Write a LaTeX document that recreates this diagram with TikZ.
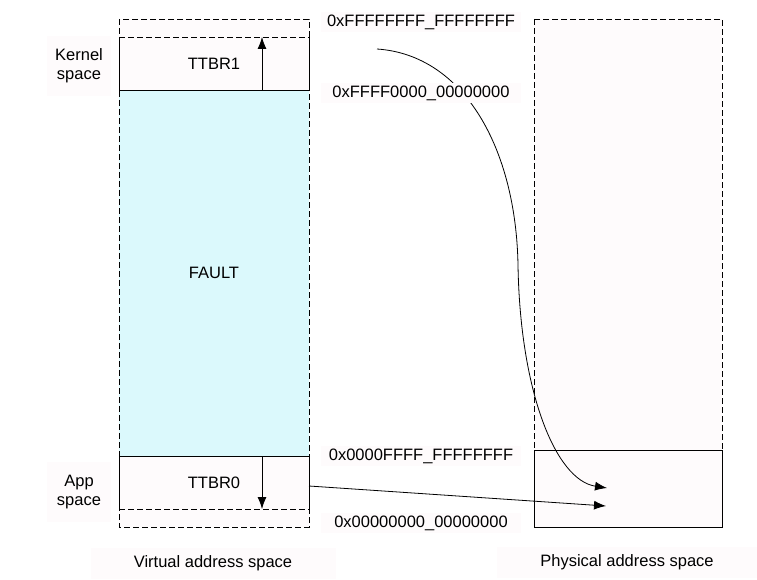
\documentclass[tikz,border=0pt]{standalone}
\usepackage{fontspec}
\setmainfont{Liberation Sans}
\usetikzlibrary{arrows.meta}
\definecolor{rose}{RGB}{254,251,252}
\definecolor{cyanpale}{RGB}{219,249,252}
\begin{document}
\begin{tikzpicture}[x=1pt, y=-1pt, line width=0.8pt]
\tikzset{zone/.style={rectangle, inner sep=0pt, outer sep=0pt, minimum width=190pt, font=\fontsize{16.5}{19}\selectfont},
etiq/.style={rectangle, fill=rose, inner sep=0pt, align=center, font=\fontsize{16.5}{19}\selectfont},
tirets/.style={dash pattern=on 6pt off 3pt},
fleche/.style={-{Latex[length=12pt,width=9pt]}}}
\useasboundingbox (0,0) rectangle (757,580);
\node[zone, fill=rose, minimum height=508pt] (Vcol) at (214,273) {};
\node[zone, fill=rose, minimum width=188pt, minimum height=508pt] (Pcol) at (628,273) {};
\node[zone, fill=rose, minimum height=53pt] (Noyau) at (214,63.5) {TTBR1};
\node[zone, fill=cyanpale, minimum height=366pt] (Faute) at (214,273) {FAULT};
\node[zone, fill=rose, minimum height=53pt] (Appli) at (214,482.5) {TTBR0};
\node[zone, draw, minimum width=188pt, minimum height=77pt] (Pbox) at (628,488.5) {};
\draw[tirets] (Vcol.north west) rectangle (Vcol.south east);
\draw[tirets] (Pcol.north west) rectangle (Pcol.south east);
\draw[tirets] (Noyau.north west) -- (Noyau.north east);
\draw (Noyau.north west) -- (Noyau.south west) -- (Noyau.south east) -- (Noyau.north east);
\draw[tirets] (Appli.south west) -- (Appli.south east);
\draw (Appli.south west) -- (Appli.north west) -- (Appli.north east) -- (Appli.south east);
\draw[fleche] ([xshift=-47pt]Noyau.south east) -- ([xshift=-47pt]Noyau.north east);
\draw[fleche] ([xshift=-47pt]Appli.north east) -- ([xshift=-47pt]Appli.south east);
\node[etiq, minimum width=64pt, minimum height=60pt] (Lnoyau) at (79,66) {Kernel\\space};
\node[etiq, minimum width=64pt, minimum height=60pt] (Lappli) at (79,492) {App\\space};
\node[etiq, minimum width=245pt, minimum height=31pt] (Lvirt) at (213,563) {Virtual address space};
\node[etiq, minimum width=260pt, minimum height=31pt] (Lphys) at (627,562) {Physical address space};
\coordinate (Hdebut) at (377,49);
\coordinate (Hmilieu) at (518,265);
\coordinate (Hfin) at (607,488);
\coordinate (Bfin) at (606,506);
\draw[fleche] (Hdebut) .. controls (465,55) and (516,150) .. (Hmilieu) .. controls (520,390) and (555,480) .. (Hfin);
\draw[fleche] ([yshift=-3.5pt]Appli.east) -- (Bfin);
\node[etiq, minimum width=200pt, minimum height=20pt] (A1) at (421,22) {0xFFFFFFFF\_FFFFFFFF};
\node[etiq, minimum width=200pt, minimum height=20pt] (A2) at (421,93) {0xFFFF0000\_00000000};
\node[etiq, minimum width=200pt, minimum height=20pt] (A3) at (421,456) {0x0000FFFF\_FFFFFFFF};
\node[etiq, minimum width=200pt, minimum height=20pt] (A4) at (421,523) {0x00000000\_00000000};
\end{tikzpicture}
\end{document}
